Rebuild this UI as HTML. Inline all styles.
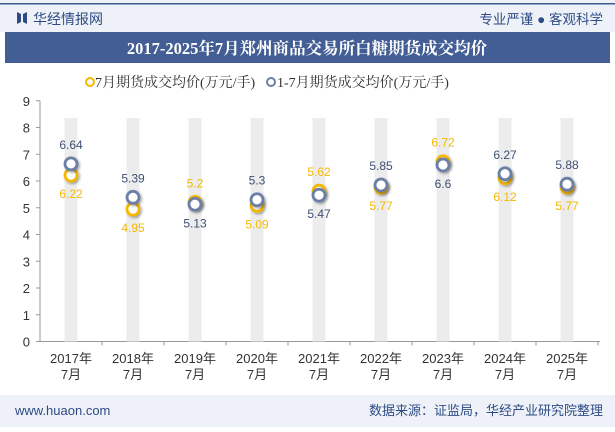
<!DOCTYPE html>
<html><head><meta charset="utf-8"><style>
body{margin:0;width:615px;height:427px;overflow:hidden;background:#fff;font-family:"Liberation Sans","Noto Sans CJK SC",sans-serif;}
</style></head><body>
<svg width="615" height="427" xmlns="http://www.w3.org/2000/svg">
<defs><filter id="sh" x="-50%" y="-50%" width="200%" height="200%"><feDropShadow dx="1.5" dy="1.5" stdDeviation="1.2" flood-color="#000" flood-opacity="0.35"/></filter></defs>
<rect x="0" y="0" width="615" height="427" fill="#fff"/>
<rect x="0" y="0" width="615" height="32" fill="#eef2f8"/>
<rect x="0" y="3" width="615" height="1.5" fill="#3d5a92"/>
<path d="M17 12 L21 14 L21 22 L17 24 Z M23 14 L27 12 L27 24 L23 22 Z" fill="#2e4b85"/>
<text x="33" y="24" font-size="14" fill="#2e4b85">华经情报网</text>
<text x="603" y="24" font-size="13.5" fill="#2e4b85" text-anchor="end">专业严谨 ● 客观科学</text>
<rect x="5" y="32" width="605" height="31" fill="#435d95"/>
<text x="307" y="54" font-size="16.5" font-weight="bold" fill="#fff" text-anchor="middle" font-family="'Liberation Serif','Noto Serif CJK SC',serif">2017-2025年7月郑州商品交易所白糖期货成交均价</text>
<g font-size="14" fill="#333" font-family="'Liberation Serif','Noto Serif CJK SC',serif">
<circle cx="90" cy="82" r="4" fill="#fff" stroke="#f5b800" stroke-width="2"/>
<text x="95" y="87">7月期货成交均价(万元/手)</text>
<circle cx="271" cy="82" r="4" fill="#fff" stroke="#6c7fa6" stroke-width="2"/>
<text x="277" y="87">1-7月期货成交均价(万元/手)</text>
</g>
<g id="axes"></g>
<g id="bars"></g>
<g id="marks"></g>
<rect x="0" y="395" width="615" height="32" fill="#eef2f8"/>
<text x="15" y="415" font-size="13" fill="#2e4b85">www.huaon.com</text>
<text x="603" y="415" font-size="13" fill="#2e4b85" text-anchor="end">数据来源：证监局，华经产业研究院整理</text>
</svg>
<script>
const categories=["2017年","2018年","2019年","2020年","2021年","2022年","2023年","2024年","2025年"];
const julyValues=[6.22,4.95,5.2,5.09,5.62,5.77,6.72,6.12,5.77];
const ytdValues=[6.64,5.39,5.13,5.3,5.47,5.85,6.6,6.27,5.88];
const yTicks=[0,1,2,3,4,5,6,7,8,9];
const NS="http://www.w3.org/2000/svg";
function y(v){return 341.5-v*26.75;}
function x(i){return 71+i*62;}
function mk(tag,attrs,parent,txt){const e=document.createElementNS(NS,tag);for(const k in attrs)e.setAttribute(k,attrs[k]);if(txt!==undefined)e.textContent=txt;parent.appendChild(e);return e;}
const ax=document.getElementById('axes'),bg=document.getElementById('bars'),mg=document.getElementById('marks');
const yl=mk('line',{x1:40,x2:40,y1:y(9),y2:y(0),stroke:'#999'},ax);


const xl=mk('line',{x1:40,x2:600,y1:y(0),y2:y(0),stroke:'#999'},ax);


yTicks.forEach(t=>{
 mk('line',{x1:36,x2:40,y1:y(t),y2:y(t),stroke:'#999'},ax);
 const tx=mk('text',{x:30,y:y(t)+5,'font-size':13,fill:'#333','text-anchor':'end'},ax,t);
 
 
});
categories.forEach((c,i)=>{
 const b=mk('rect',{x:x(i)-6.5,y:118,width:13,height:y(0)-118,fill:'#ececec'},bg);
 
 
 mk('line',{x1:x(i)+31,x2:x(i)+31,y1:y(0),y2:y(0)+4,stroke:'#999'},ax);
 const t=mk('text',{x:x(i),y:363,'font-size':13,fill:'#333','text-anchor':'middle'},ax,c);
 
 
 const t2=mk('text',{x:x(i),y:379,'font-size':13,fill:'#333','text-anchor':'middle'},ax,'7月');
 
 
});
[[julyValues,'#f5b800','#f5b800','july-point'],[ytdValues,'#6c7fa6','#3d4f72','ytd-point']].forEach(([vals,col,lc,nm],si)=>{
 vals.forEach((v,i)=>{
  const other=si===0?ytdValues[i]:julyValues[i];
  const c=mk('circle',{cx:x(i),cy:y(v),r:6,fill:'#fff',stroke:col,'stroke-width':2.8,filter:'url(#sh)'},mg);
  
  
  const above=v>=other;
  const ly=above?y(Math.max(v,other))-15:y(Math.min(v,other))+23;
  const l=mk('text',{x:x(i),y:ly,'font-size':12,fill:lc,'text-anchor':'middle'},mg,String(v));
  
  
 });
});
</script>
</body></html>
